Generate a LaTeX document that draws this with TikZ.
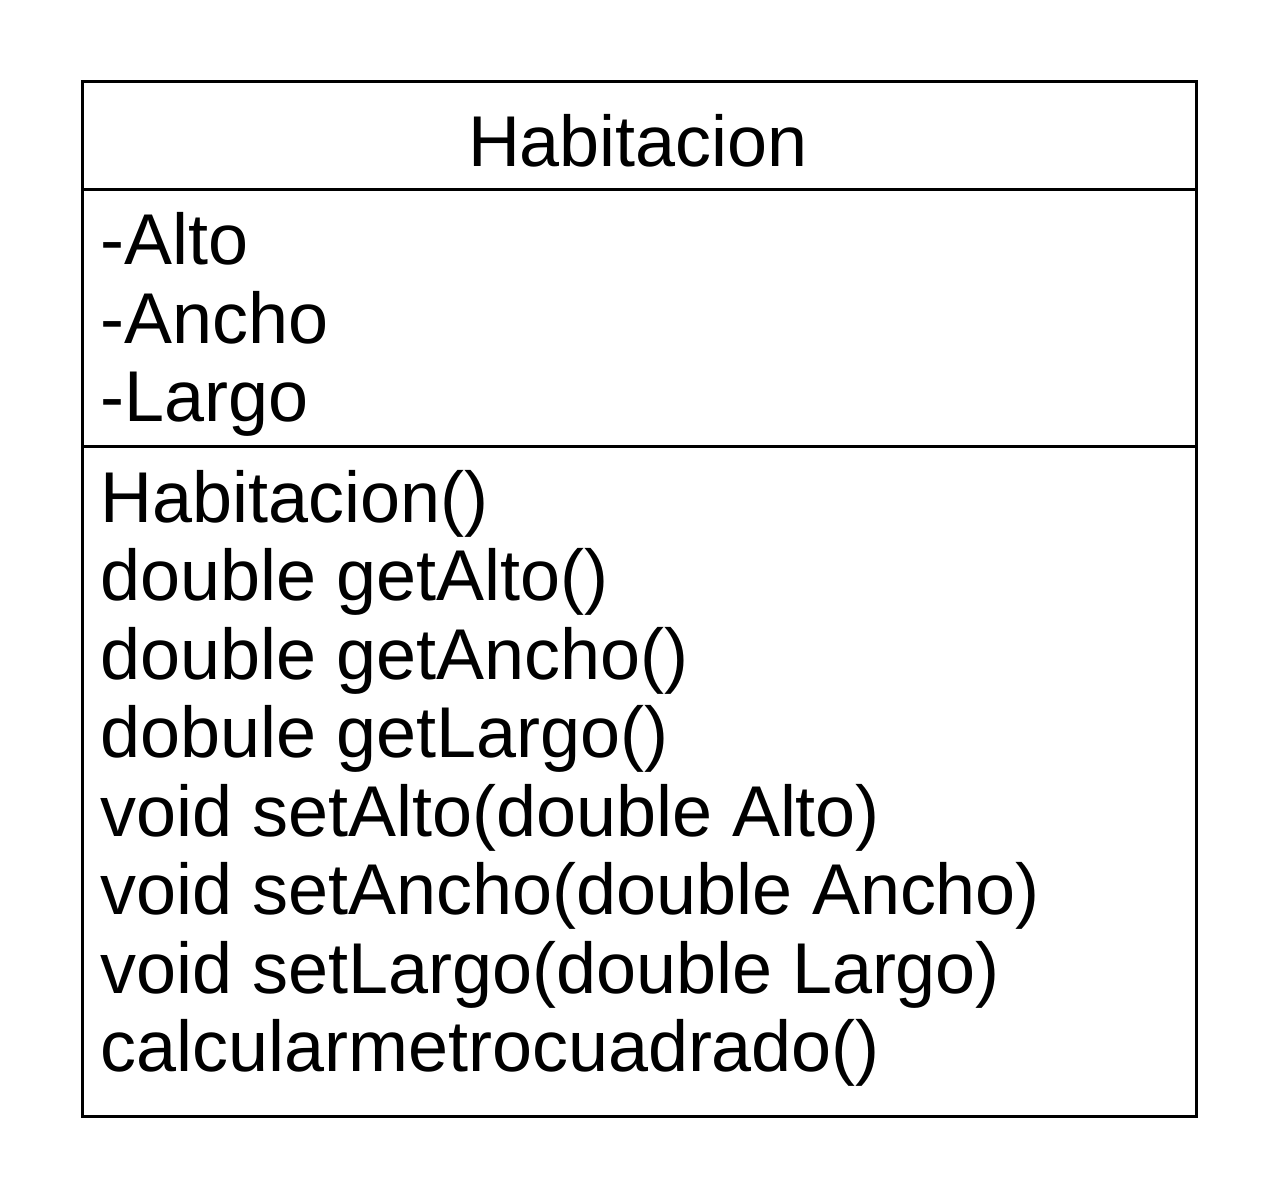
\documentclass[tikz,border=0pt]{standalone}
\usepackage{fontspec}
\setmainfont{Liberation Sans}
\begin{document}
\begin{tikzpicture}[x=0.5bp,y=-0.5bp,
  umltext/.style={font=\fontsize{36.1}{40}\selectfont, inner sep=0pt, anchor=base west},
  umlbox/.style={draw=black, line width=1.5bp}]
\useasboundingbox (0,0) rectangle (1280,1200);
\coordinate (tl) at (82,82);
\coordinate (br) at (1196,1116);
\draw[umlbox] (tl) rectangle (br);
\coordinate (d1l) at (82,190);
\coordinate (d1r) at (1196,190);
\coordinate (d2l) at (82,447);
\coordinate (d2r) at (1196,447);
\draw[umlbox] (d1l) -- (d1r);
\draw[umlbox] (d2l) -- (d2r);
\node[umltext, anchor=base] (title) at (638,167) {Habitacion};
\node[umltext] (a1) at (100,265) {-Alto};
\node[umltext] (a2) at (100,344) {-Ancho};
\node[umltext] (a3) at (100,422) {-Largo};
\node[umltext] (m1) at (100,522) {Habitacion()};
\node[umltext] (m2) at (100,600) {double getAlto()};
\node[umltext] (m3) at (100,679) {double getAncho()};
\node[umltext] (m4) at (100,757) {dobule getLargo()};
\node[umltext] (m5) at (100,836) {void setAlto(double Alto)};
\node[umltext] (m6) at (100,914) {void setAncho(double Ancho)};
\node[umltext] (m7) at (100,993) {void setLargo(double Largo)};
\node[umltext] (m8) at (100,1071) {calcularmetrocuadrado()};
\end{tikzpicture}
\end{document}
